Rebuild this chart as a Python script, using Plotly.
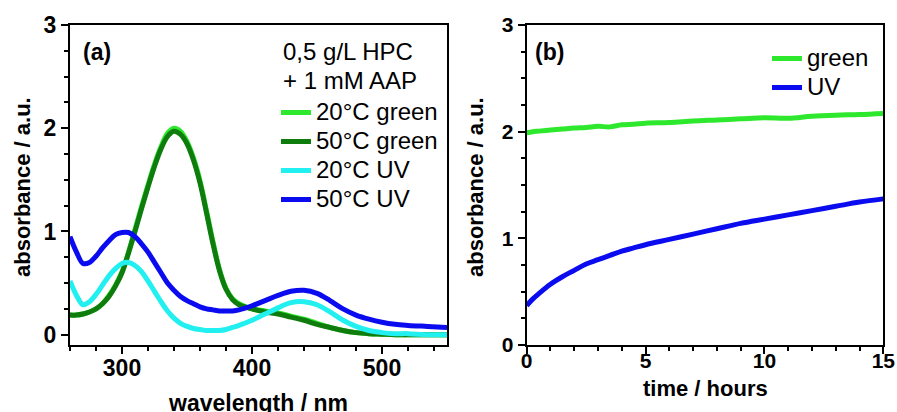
import plotly.graph_objects as go

# ---- (a) absorption spectra ----
wavelength = [260, 265, 270, 275, 280, 285, 290, 295, 300, 305, 310, 315, 320, 325, 330,
              335, 340, 345, 350, 355, 360, 365, 370, 375, 380, 385, 390, 400, 410, 420,
              430, 440, 450, 460, 470, 480, 490, 500, 510, 520, 535, 550]
green_20C = [0.19, 0.19, 0.20, 0.22, 0.25, 0.30, 0.38, 0.48, 0.61, 0.80, 1.02, 1.24, 1.45, 1.65, 1.82,
             1.95, 2.00, 1.97, 1.87, 1.71, 1.49, 1.20, 0.90, 0.63, 0.45, 0.35, 0.30, 0.25, 0.23, 0.21,
             0.18, 0.15, 0.11, 0.07, 0.04, 0.02, 0.01, 0.005, 0.0, 0.0, 0.0, 0.0]
green_50C = [0.19, 0.19, 0.20, 0.22, 0.25, 0.30, 0.37, 0.47, 0.60, 0.79, 1.00, 1.22, 1.43, 1.63, 1.80,
             1.92, 1.97, 1.94, 1.85, 1.69, 1.47, 1.18, 0.88, 0.62, 0.44, 0.34, 0.29, 0.25, 0.22, 0.20,
             0.17, 0.14, 0.10, 0.07, 0.04, 0.02, 0.01, 0.005, 0.0, 0.0, 0.0, 0.0]
uv_20C = [0.52, 0.38, 0.29, 0.32, 0.39, 0.48, 0.57, 0.64, 0.69, 0.70, 0.67, 0.61, 0.52, 0.42, 0.32,
          0.23, 0.16, 0.11, 0.08, 0.06, 0.05, 0.04, 0.04, 0.04, 0.05, 0.07, 0.09, 0.14, 0.20, 0.26,
          0.31, 0.32, 0.29, 0.22, 0.14, 0.08, 0.04, 0.02, 0.01, 0.01, 0.0, 0.0]
uv_50C = [0.95, 0.80, 0.69, 0.70, 0.76, 0.84, 0.91, 0.97, 0.99, 0.99, 0.95, 0.88, 0.80, 0.70, 0.60,
          0.50, 0.43, 0.37, 0.33, 0.30, 0.27, 0.25, 0.24, 0.23, 0.23, 0.23, 0.24, 0.28, 0.33, 0.38,
          0.42, 0.43, 0.40, 0.33, 0.25, 0.19, 0.15, 0.12, 0.10, 0.09, 0.08, 0.07]

# ---- (b) time evolution ----
time_h = [0, 0.25, 0.5, 1, 1.5, 2, 2.5, 3, 3.5, 4, 4.5, 5, 6, 7, 8, 9, 10, 11, 12, 13, 14, 15]
green_t = [1.99, 2.00, 2.005, 2.015, 2.025, 2.035, 2.04, 2.05, 2.045, 2.065, 2.07, 2.08, 2.085,
           2.10, 2.11, 2.12, 2.13, 2.125, 2.145, 2.155, 2.16, 2.17]
uv_t = [0.37, 0.43, 0.48, 0.57, 0.64, 0.70, 0.76, 0.80, 0.84, 0.88, 0.91, 0.94, 0.99, 1.04,
        1.09, 1.14, 1.18, 1.22, 1.26, 1.30, 1.34, 1.37]

C_LIME = "#2ee82e"
C_DKGREEN = "#0e7d0e"
C_CYAN = "#22f0f0"
C_BLUE = "#0b0bf0"
FONT = "Liberation Sans, Arial, sans-serif"
W, H = 897, 412


def label(text):
    # legend entries use a slightly larger glyph size than the row pitch implies
    return f'<span style="font-size:24px">{text}</span>'


fig = go.Figure()
LW = 5
fig.add_trace(go.Scatter(x=wavelength, y=green_20C, name=label("20°C green"), mode="lines",
                         line=dict(color=C_LIME, width=LW, shape="spline"), legend="legend"))
fig.add_trace(go.Scatter(x=wavelength, y=green_50C, name=label("50°C green"), mode="lines",
                         line=dict(color=C_DKGREEN, width=LW, shape="spline"), legend="legend"))
fig.add_trace(go.Scatter(x=wavelength, y=uv_20C, name=label("20°C UV"), mode="lines",
                         line=dict(color=C_CYAN, width=LW, shape="spline"), legend="legend"))
fig.add_trace(go.Scatter(x=wavelength, y=uv_50C, name=label("50°C UV"), mode="lines",
                         line=dict(color=C_BLUE, width=LW, shape="spline"), legend="legend"))
fig.add_trace(go.Scatter(x=time_h, y=green_t, name=label("green"), mode="lines", xaxis="x2", yaxis="y2",
                         line=dict(color=C_LIME, width=LW, shape="spline"), legend="legend2"))
fig.add_trace(go.Scatter(x=time_h, y=uv_t, name=label("UV"), mode="lines", xaxis="x2", yaxis="y2",
                         line=dict(color=C_BLUE, width=LW, shape="spline"), legend="legend2"))


def px_x(v):
    return v / W


def px_y(v):
    return 1 - v / H


dom_a = [px_x(70), px_x(447)]
dom_b = [px_x(526.7), px_x(883.3)]
dom_y = [px_y(345), px_y(25)]


def main_axis(rng, dtick, minor, domain, anchor, fsize, standoff):
    return dict(range=rng, domain=domain, anchor=anchor, dtick=dtick, tick0=0,
                showline=True, linecolor="black", linewidth=2, mirror=True,
                ticks="outside", ticklen=7, tickwidth=2, tickcolor="black",
                minor=dict(dtick=minor, tick0=0, ticks="outside", ticklen=4,
                           tickwidth=2, tickcolor="black"),
                showgrid=False, zeroline=False, automargin=False,
                ticklabelstandoff=standoff,
                tickfont=dict(family=FONT, size=fsize, color="black", weight="bold"))


def mirror_axis(rng, dtick, minor, overlay, anchor, side):
    return dict(range=rng, overlaying=overlay, anchor=anchor, side=side, dtick=dtick, tick0=0,
                showline=False, ticks="inside", ticklen=5, tickwidth=2, tickcolor="black",
                minor=dict(dtick=minor, tick0=0, ticks="inside", ticklen=3,
                           tickwidth=2, tickcolor="black"),
                showticklabels=False, showgrid=False, zeroline=False, automargin=False)


fig.update_layout(
    template="none",
    width=W, height=H, margin=dict(l=0, r=0, t=0, b=0, autoexpand=False),
    paper_bgcolor="white", plot_bgcolor="white",
    font=dict(family=FONT, color="black"),
    xaxis=main_axis([260, 550], 100, 20, dom_a, "y", 23, -6),
    yaxis=main_axis([-0.1, 3], 1, 0.25, dom_y, "x", 23, 0),
    xaxis2=main_axis([0, 15], 5, 1, dom_b, "y2", 21, -11),
    yaxis2=main_axis([0, 3], 1, 0.25, dom_y, "x2", 21, 0),
    xaxis3=mirror_axis([260, 550], 100, 20, "x", "y", "top"),
    yaxis3=mirror_axis([-0.1, 3], 1, 0.25, "y", "x", "right"),
    xaxis4=mirror_axis([0, 15], 5, 1, "x2", "y2", "top"),
    yaxis4=mirror_axis([0, 3], 1, 0.25, "y2", "x2", "right"),
    legend=dict(x=px_x(276), y=px_y(93), xanchor="left", yanchor="top",
                bgcolor="rgba(0,0,0,0)", borderwidth=0,
                font=dict(family=FONT, size=20, color="black")),
    legend2=dict(x=px_x(767), y=px_y(39), xanchor="left", yanchor="top",
                 bgcolor="rgba(0,0,0,0)", borderwidth=0,
                 font=dict(family=FONT, size=20, color="black")),
    showlegend=True,
)

ann_font = dict(family=FONT, size=24, color="black")
bold_font = dict(family=FONT, size=23, color="black", weight="bold")
title_font = dict(family=FONT, size=22, color="black", weight="bold")
anns = [
    dict(text="(a)", x=px_x(81), y=px_y(52), xanchor="left", yanchor="middle", font=bold_font),
    dict(text="(b)", x=px_x(533), y=px_y(52), xanchor="left", yanchor="middle", font=bold_font),
    dict(text="0,5 g/L HPC", x=px_x(281), y=px_y(52), xanchor="left", yanchor="middle", font=ann_font),
    dict(text="+ 1 mM AAP", x=px_x(281), y=px_y(80), xanchor="left", yanchor="middle", font=ann_font),
    dict(text="absorbance / a.u.", x=px_x(22), y=px_y(187), textangle=-90,
         xanchor="center", yanchor="middle", font=title_font),
    dict(text="absorbance / a.u.", x=px_x(475), y=px_y(187), textangle=-90,
         xanchor="center", yanchor="middle", font=title_font),
    dict(text="wavelength / nm", x=px_x(258), y=px_y(403), xanchor="center", yanchor="middle",
         font=dict(family=FONT, size=23, color="black", weight="bold")),
    dict(text="time / hours", x=px_x(705), y=px_y(388), xanchor="center", yanchor="middle",
         font=title_font),
]
for a in anns:
    fig.add_annotation(xref="paper", yref="paper", showarrow=False, **a)

fig.write_html("out.html")
